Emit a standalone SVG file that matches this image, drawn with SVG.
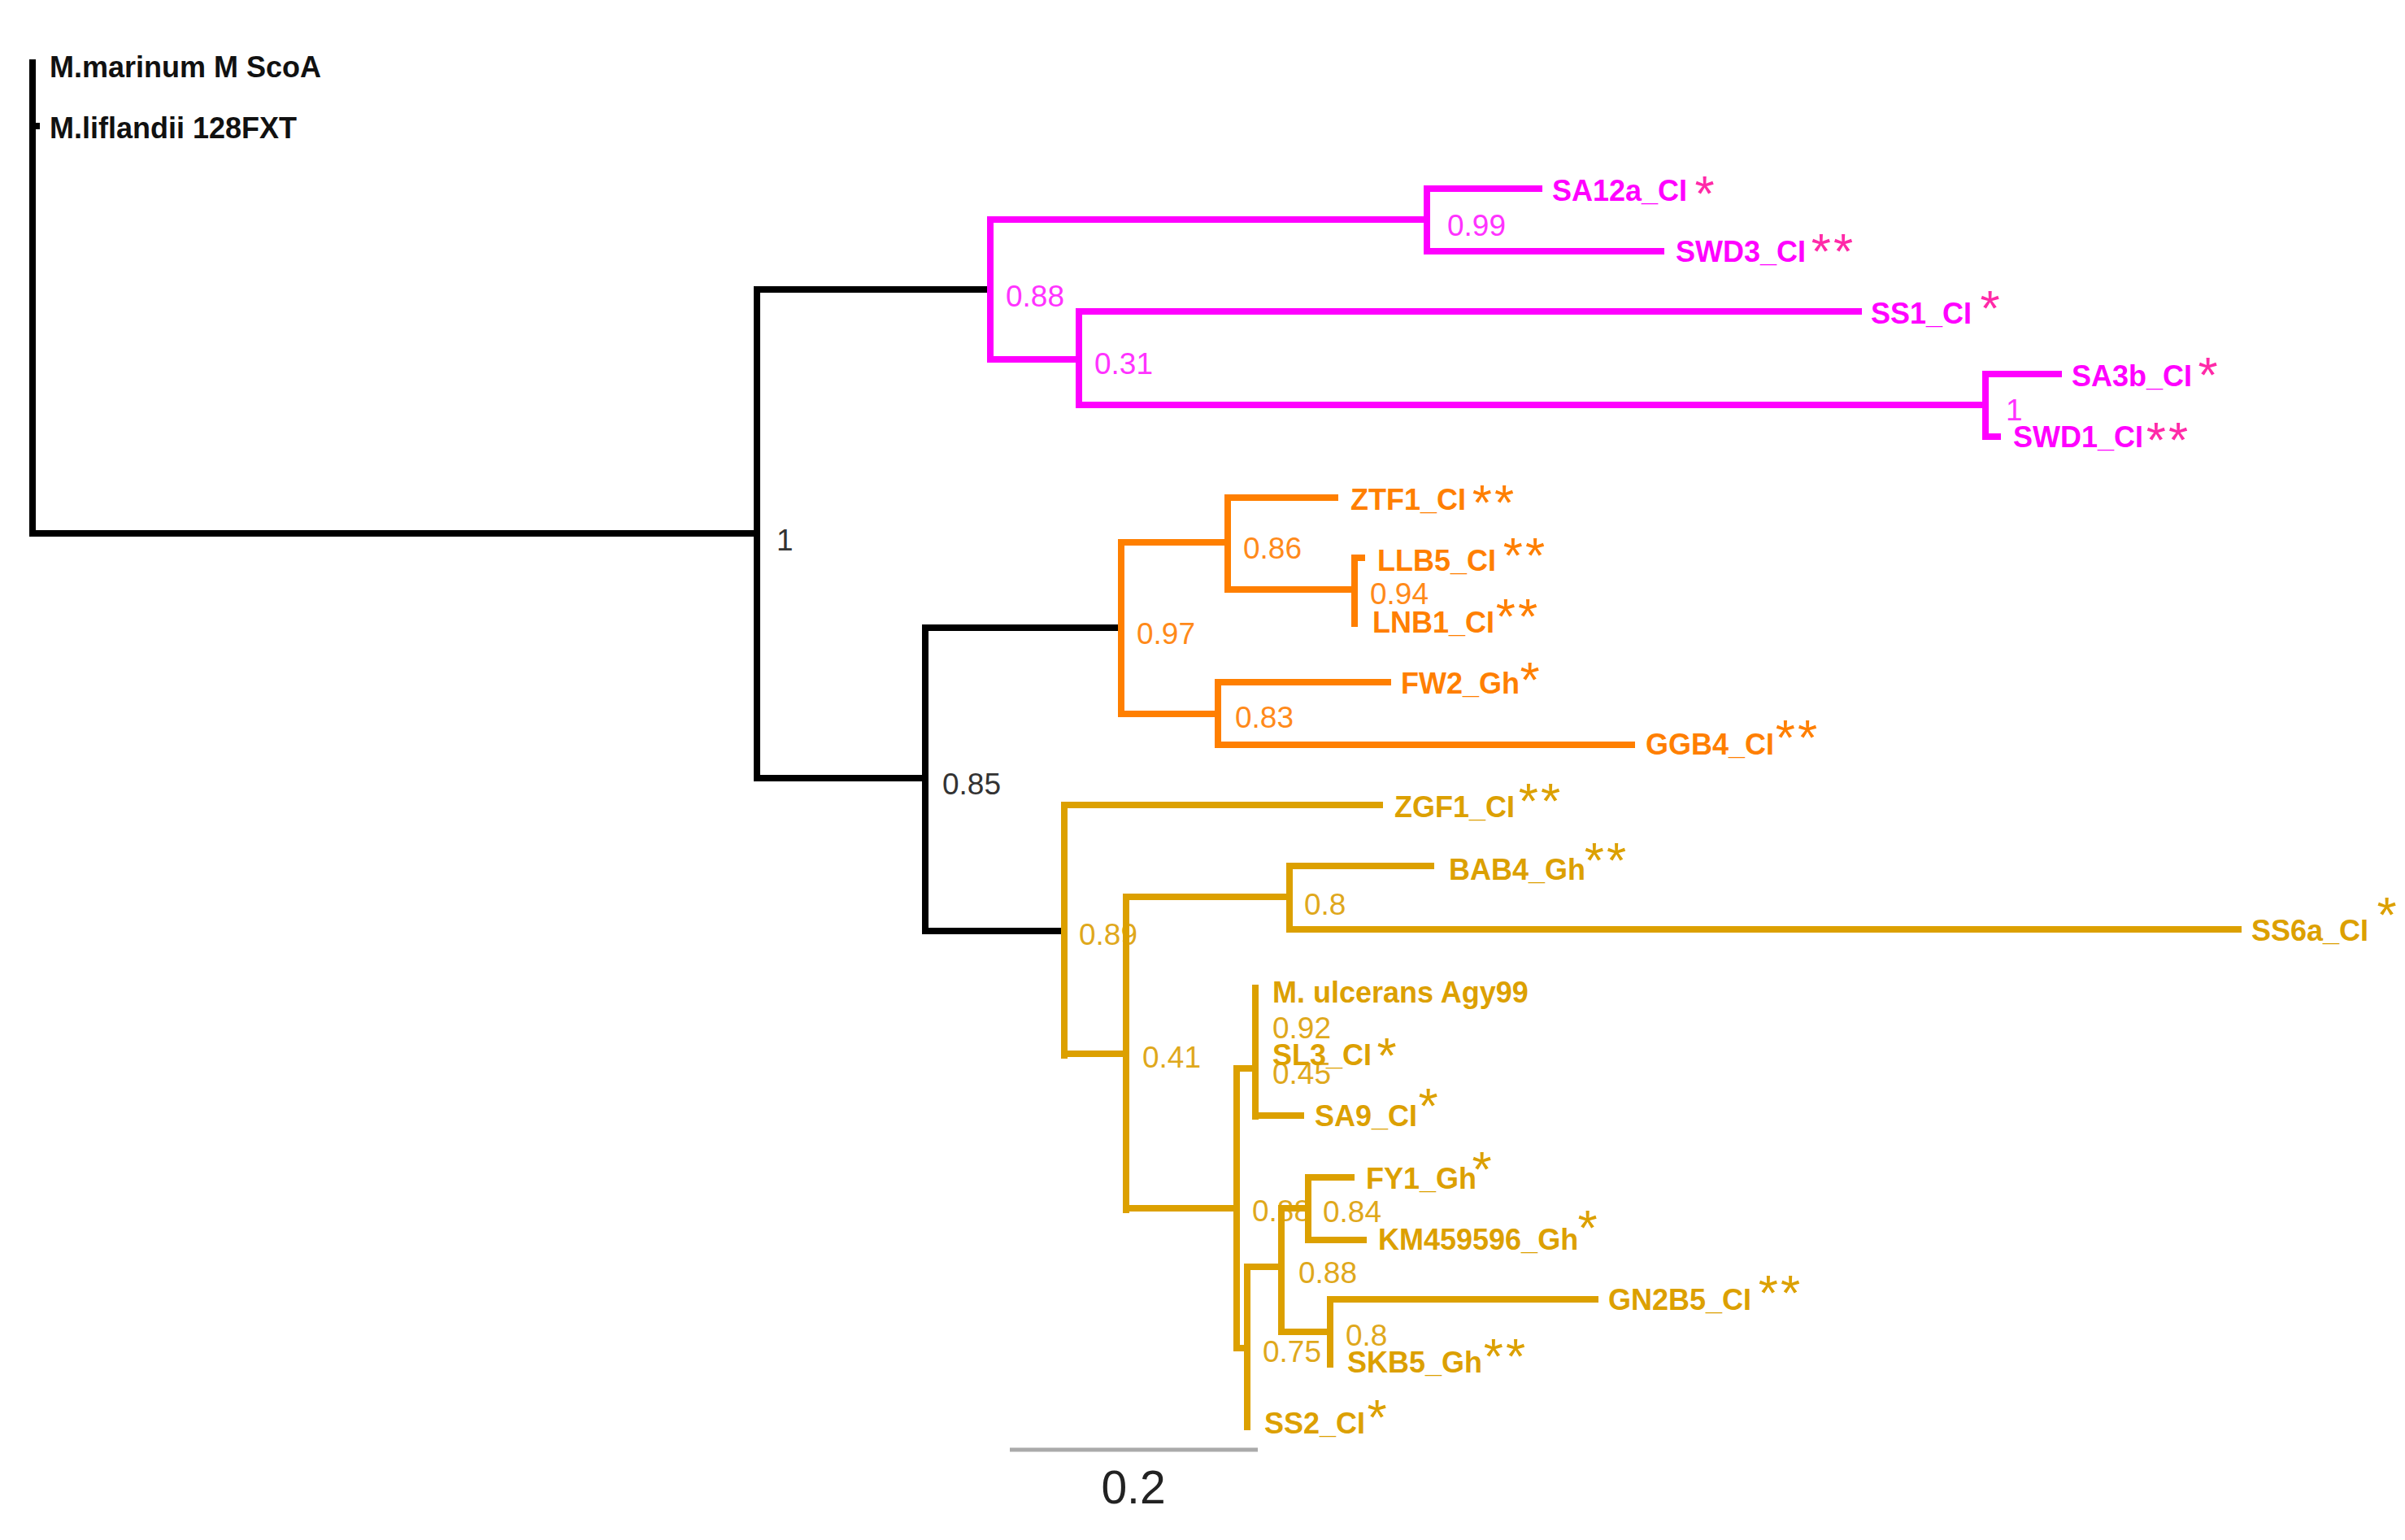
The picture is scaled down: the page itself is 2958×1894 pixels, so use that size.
<svg xmlns="http://www.w3.org/2000/svg" width="2958" height="1894" viewBox="0 0 2958 1894">
<style>
.e{fill:none;stroke-width:8;stroke-linecap:square}
.k{stroke:#000}.p{stroke:#ff00ff}.o{stroke:#ff7f00}.g{stroke:#dca000}
.t{font-family:"Liberation Sans",Arial,sans-serif;font-weight:bold;font-size:36px}
.s{font-family:"Liberation Sans",Arial,sans-serif;font-size:37px}
.st{font-family:"Liberation Sans",Arial,sans-serif;font-size:62px;text-anchor:middle;letter-spacing:3px}
.fk{fill:#111}.fp{fill:#ff00ff}.fo{fill:#ff7f00}.fg{fill:#dca000}
.sk{fill:#333}.sp{fill:#ff33ff}.so{fill:#ff8a1a}.sg{fill:#dfa81c}
.pstar{fill:#ff2aa8}
</style>
<rect width="2958" height="1894" fill="#fff"/>

<g id="support-values">
<text class="s sk" x="955" y="677">1</text>
<text class="s sk" x="1159" y="977">0.85</text>
<text class="s sp" x="1237" y="377">0.88</text>
<text class="s sp" x="1780" y="290">0.99</text>
<text class="s sp" x="1346" y="460">0.31</text>
<text class="s sp" x="2467" y="517">1</text>
<text class="s so" x="1398" y="792">0.97</text>
<text class="s so" x="1529" y="687">0.86</text>
<text class="s so" x="1685" y="743">0.94</text>
<text class="s so" x="1519" y="895">0.83</text>
<text class="s sg" x="1327" y="1162">0.89</text>
<text class="s sg" x="1604" y="1125">0.8</text>
<text class="s sg" x="1405" y="1313">0.41</text>
<text class="s sg" x="1565" y="1277">0.92</text>
<text class="s sg" x="1565" y="1333">0.45</text>
<text class="s sg" x="1540" y="1502">0.88</text>
<text class="s sg" x="1627" y="1503">0.84</text>
<text class="s sg" x="1597" y="1578">0.88</text>
<text class="s sg" x="1553" y="1675">0.75</text>
<text class="s sg" x="1655" y="1655">0.8</text>
</g>

<g id="connectors">
<path class="e k" d="M40 77V656M40 155H45M40 656H931M931 356V957M931 356H1218M931 957H1138M1138 772V1145M1138 772H1379M1138 1145H1309"/>
<path class="e p" d="M1218 270V442M1218 270H1755M1218 442H1327M1755 232V309M1755 232H1893M1755 309H2043M1327 383V498M1327 383H2286M1327 498H2442M2442 460V537M2442 460H2532M2442 537H2457"/>
<path class="e o" d="M1379 667V878M1379 667H1510M1379 878H1498M1510 612V725M1510 612H1642M1510 725H1666M1666 686V767M1666 686H1675M1498 839V916M1498 839H1707M1498 916H2007"/>
<path class="e g" d="M1309 990V1298M1309 990H1697M1309 1296H1385M1385 1103V1488M1385 1103H1586M1586 1065V1143M1586 1065H1760M1586 1143H2753M1385 1486H1521M1521 1314V1658M1521 1314H1544M1544 1215V1373M1544 1372H1600M1521 1658H1534M1534 1558V1755M1534 1558H1576M1576 1486V1638M1576 1486H1609M1609 1448V1525M1609 1448H1662M1609 1525H1677M1576 1638H1636M1636 1598V1678M1636 1598H1962"/>
</g>

<g id="node-marinum"><text class="t fk" x="61" y="95">M.marinum M ScoA</text></g>
<g id="node-liflandii"><text class="t fk" x="61" y="170">M.liflandii 128FXT</text></g>

<g id="node-SA12a"><text class="t fp" x="1909" y="247">SA12a_CI</text><text class="st pstar" x="2098" y="259">*</text></g>
<g id="node-SWD3"><text class="t fp" x="2061" y="322">SWD3_CI</text><text class="st pstar" x="2255" y="330">**</text></g>
<g id="node-SS1"><text class="t fp" x="2301" y="398">SS1_CI</text><text class="st pstar" x="2449" y="400">*</text></g>
<g id="node-SA3b"><text class="t fp" x="2548" y="475">SA3b_CI</text><text class="st pstar" x="2717" y="482">*</text></g>
<g id="node-SWD1"><text class="t fp" x="2476" y="550">SWD1_CI</text><text class="st pstar" x="2667" y="562">**</text></g>

<g id="node-ZTF1"><text class="t fo" x="1661" y="627">ZTF1_CI</text><text class="st fo" x="1838" y="639">**</text></g>
<g id="node-LLB5"><text class="t fo" x="1694" y="702">LLB5_CI</text><text class="st fo" x="1876" y="704">**</text></g>
<g id="node-LNB1"><text class="t fo" x="1688" y="778">LNB1_CI</text><text class="st fo" x="1867" y="779">**</text></g>
<g id="node-FW2"><text class="t fo" x="1723" y="853">FW2_Gh</text><text class="st fo" x="1883" y="857">*</text></g>
<g id="node-GGB4"><text class="t fo" x="2024" y="928">GGB4_CI</text><text class="st fo" x="2211" y="928">**</text></g>

<g id="node-ZGF1"><text class="t fg" x="1715" y="1005">ZGF1_CI</text><text class="st fg" x="1895" y="1006">**</text></g>
<g id="node-BAB4"><text class="t fg" x="1782" y="1082">BAB4_Gh</text><text class="st fg" x="1976" y="1079">**</text></g>
<g id="node-SS6a"><text class="t fg" x="2769" y="1157">SS6a_CI</text><text class="st fg" x="2937" y="1146">*</text></g>
<g id="node-ulcerans"><text class="t fg" x="1565" y="1233">M. ulcerans Agy99</text></g>
<g id="node-SL3"><text class="t fg" x="1565" y="1310">SL3_CI</text><text class="st fg" x="1707" y="1319">*</text></g>
<g id="node-SA9"><text class="t fg" x="1617" y="1385">SA9_CI</text><text class="st fg" x="1758" y="1381">*</text></g>
<g id="node-FY1"><text class="t fg" x="1680" y="1462">FY1_Gh</text><text class="st fg" x="1824" y="1459">*</text></g>
<g id="node-KM459596"><text class="t fg" x="1695" y="1537">KM459596_Gh</text><text class="st fg" x="1954" y="1531">*</text></g>
<g id="node-GN2B5"><text class="t fg" x="1978" y="1611">GN2B5_CI</text><text class="st fg" x="2190" y="1611">**</text></g>
<g id="node-SKB5"><text class="t fg" x="1657" y="1688">SKB5_Gh</text><text class="st fg" x="1852" y="1689">**</text></g>
<g id="node-SS2"><text class="t fg" x="1555" y="1763">SS2_CI</text><text class="st fg" x="1695" y="1764">*</text></g>

<g id="scale-bar">
<line x1="1242" y1="1783" x2="1547" y2="1783" stroke="#aaa" stroke-width="5"/>
<text x="1394" y="1849" font-family="Liberation Sans, Arial, sans-serif" font-size="57" fill="#222" text-anchor="middle">0.2</text>
</g>
</svg>
